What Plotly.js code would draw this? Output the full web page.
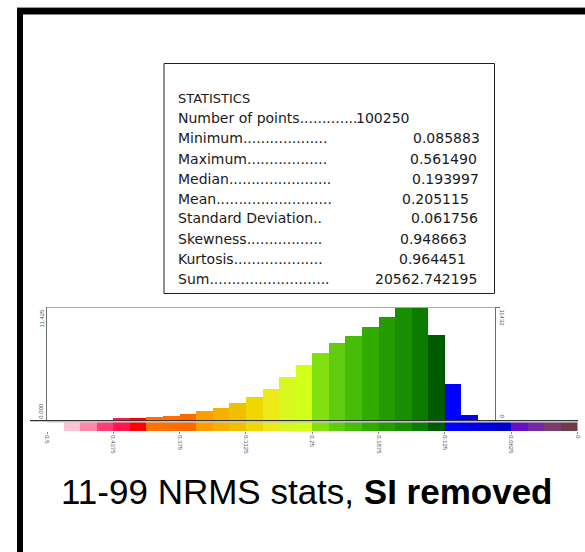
<!DOCTYPE html>
<html>
<head>
<meta charset="utf-8">
<script src="https://cdn.plot.ly/plotly-3.0.1.min.js"></script>
<style>
  html, body { margin: 0; padding: 0; background: #ffffff; }
  #chart { width: 585px; height: 552px; }
</style>
</head>
<body>
<div id="chart"></div>
<script>
// ---------------- data ----------------
const binCenters = [0.4921875, 0.4765625, 0.4609375, 0.4453125, 0.4296875, 0.4140625, 0.3984375, 0.3828125,
  0.3671875, 0.3515625, 0.3359375, 0.3203125, 0.3046875, 0.2890625, 0.2734375, 0.2578125,
  0.2421875, 0.2265625, 0.2109375, 0.1953125, 0.1796875, 0.1640625, 0.1484375, 0.1328125,
  0.1171875, 0.1015625, 0.0859375, 0.0703125, 0.0546875, 0.0390625, 0.0234375, 0.0078125];
const binWidth = 0.015625;
const counts = [0, 25, 40, 70, 230, 275, 375, 470, 705, 975, 1280, 1810, 2380, 3215, 4420, 5600,
  6770, 7810, 8515, 9455, 10425, 11432, 11400, 8620, 3690, 540, 10, 0, 0, 0, 0, 0];
const stripOn = [0, 1, 1, 1, 1, 1, 1, 1, 1, 1, 1, 1, 1, 1, 1, 1,
  1, 1, 1, 1, 1, 1, 1, 1, 1, 1, 1, 1, 1, 1, 1, 1];
const binColors = ['#ffffff', '#ffc2d6', '#ff88aa', '#ff4078', '#ff1850', '#ff0000', '#ff7200', '#ff7000',
  '#ff6a00', '#ff9c00', '#f6b000', '#eec000', '#eed800', '#eeea18', '#d8f820', '#d0ff18',
  '#80e010', '#60cc10', '#48bc08', '#30ac00', '#229c00', '#188e00', '#0c7c00', '#005a00',
  '#0000ff', '#0000ee', '#0000dd', '#0000cc', '#6410c0', '#7428a0', '#783c70', '#6c3c48'];
const xTickVals = [0.5, 0.4375, 0.375, 0.3125, 0.25, 0.1875, 0.125, 0.0625, 0];
const xTickText = ['0.5', '0.4375', '0.375', '0.3125', '0.25', '0.1875', '0.125', '0.0625', '0'];
const xMax = 0.5, xMin = 0, plotRightValue = 0.078125;
const yMaxCount = 11432;
const leftAxisLabels = ['0.000', '11.425'];
const rightAxisLabels = ['0', '11432'];

const statLabels = ['Number of points.............', 'Minimum...................', 'Maximum..................',
  'Median.......................', 'Mean..........................', 'Standard Deviation..', 'Skewness.................',
  'Kurtosis....................', 'Sum...........................'];
const statValues = ['100250', '0.085883', '0.561490', '0.193997', '0.205115', '0.061756', '0.948663', '0.964451', '20562.742195'];
const titleNormal = '11-99 NRMS stats, ';
const titleBold = 'SI removed';

// ---------------- layout helpers ----------------
const W = 585, H = 552;
const px = x => x / W;
const py = y => 1 - y / H;

const plotL = 47, plotR = 577.5;
const xDomain = [px(plotL), px(plotR)];
const histTop = 307, histBottom = 420.7;
const stripTop = 422.3, stripBottom = 431;
const rightAxisPos = xDomain[0] + (xMax - plotRightValue) / (xMax - xMin) * (xDomain[1] - xDomain[0]);

const traces = [
  { type: 'bar', x: binCenters, y: counts, width: binWidth,
    marker: { color: binColors, line: { width: 0 } }, xaxis: 'x', yaxis: 'y', hoverinfo: 'skip' },
  { type: 'bar', x: binCenters, y: stripOn, width: binWidth,
    marker: { color: binColors, line: { width: 0 } }, xaxis: 'x2', yaxis: 'y2', hoverinfo: 'skip' },
  { type: 'scatter', x: [plotRightValue, plotRightValue], y: [0, yMaxCount], mode: 'lines',
    line: { width: 0, color: 'rgba(0,0,0,0)' }, xaxis: 'x', yaxis: 'y3', hoverinfo: 'skip' }
];

const annotations = [];
const statX = 176;
const statFont = { family: 'DejaVu Sans', size: 14, color: '#1a1a1a' };
annotations.push({ xref: 'paper', yref: 'paper', x: px(statX), y: py(98), xanchor: 'left', yanchor: 'middle',
  text: 'STATISTICS', showarrow: false, font: { family: 'DejaVu Sans', size: 13, color: '#1a1a1a' } });
const rowY = [118, 138.5, 158.5, 178.5, 198.5, 218.5, 238.5, 258.5, 278.5];
const valueX = [382, 446, 443, 445, 435, 444, 433, 432, 426];
for (let i = 0; i < statLabels.length; i++) {
  annotations.push({ xref: 'paper', yref: 'paper', x: px(statX), y: py(rowY[i]), xanchor: 'left', yanchor: 'middle',
    text: statLabels[i], showarrow: false, font: statFont });
  annotations.push({ xref: 'paper', yref: 'paper', x: px(valueX[i]), y: py(rowY[i]), xanchor: 'center', yanchor: 'middle',
    text: statValues[i], showarrow: false, font: statFont });
}
// title
annotations.push({ xref: 'paper', yref: 'paper', x: px(306.5), y: py(491), xanchor: 'center', yanchor: 'middle',
  text: titleNormal + '<b>' + titleBold + '</b>', showarrow: false,
  font: { family: 'Liberation Sans, Arial', size: 35, color: '#000' } });
// y-axis labels (rotated)
const tickFont = { family: 'Liberation Sans, Arial', size: 6, color: '#555' };
annotations.push({ xref: 'paper', yref: 'y', x: px(41), y: 0, xanchor: 'center', yanchor: 'bottom',
  text: leftAxisLabels[0], textangle: -90, showarrow: false, font: tickFont });
annotations.push({ xref: 'paper', yref: 'y', x: px(41), y: yMaxCount, xanchor: 'center', yanchor: 'top',
  text: leftAxisLabels[1], textangle: -90, showarrow: false, font: tickFont });
annotations.push({ xref: 'paper', yref: 'y', x: rightAxisPos + px(7.5), y: 0, xanchor: 'center', yanchor: 'bottom',
  text: rightAxisLabels[0], textangle: 90, showarrow: false, font: tickFont });
annotations.push({ xref: 'paper', yref: 'y', x: rightAxisPos + px(7.5), y: yMaxCount, xanchor: 'center', yanchor: 'top',
  text: rightAxisLabels[1], textangle: 90, showarrow: false, font: tickFont });

const shapes = [
  // outer frame
  { type: 'rect', xref: 'paper', yref: 'paper', x0: px(17), x1: px(23), y0: py(8), y1: py(560), fillcolor: '#000', line: { width: 0 } },
  { type: 'rect', xref: 'paper', yref: 'paper', x0: px(17), x1: px(590), y0: py(8), y1: py(14.5), fillcolor: '#000', line: { width: 0 } },
  { type: 'line', xref: 'paper', yref: 'paper', x0: px(17), x1: px(590), y0: py(7.5), y1: py(7.5), line: { color: '#999', width: 1 } },
  // statistics box
  { type: 'rect', xref: 'paper', yref: 'paper', x0: px(164), x1: px(494.5), y0: py(63.5), y1: py(293.5), line: { color: '#222', width: 1 } },
  // top border of histogram
  { type: 'line', xref: 'x', yref: 'y', x0: xMax, x1: plotRightValue, y0: yMaxCount, y1: yMaxCount, line: { color: '#a8a8a8', width: 2 } },
  // baseline
  { type: 'line', xref: 'paper', yref: 'paper', x0: px(30), x1: px(578), y0: py(420.6), y1: py(420.6), line: { color: '#333', width: 1.3 } },
  { type: 'line', xref: 'paper', yref: 'paper', x0: px(47), x1: px(578), y0: py(421.9), y1: py(421.9), line: { color: '#b8b8b8', width: 1 } }
];

const layout = {
  width: W, height: H,
  margin: { l: 0, r: 0, t: 0, b: 0, pad: 0 },
  paper_bgcolor: '#ffffff', plot_bgcolor: 'rgba(0,0,0,0)',
  showlegend: false, bargap: 0,
  xaxis: { domain: xDomain, range: [xMax, xMin], anchor: 'y', showgrid: false, zeroline: false,
    showticklabels: false, ticks: '', showline: false, fixedrange: true },
  yaxis: { domain: [py(histBottom), py(histTop)], range: [0, yMaxCount], anchor: 'x', showgrid: false, zeroline: false,
    showticklabels: false, ticks: '', showline: true, linecolor: '#707070', linewidth: 1.2, fixedrange: true },
  xaxis2: { domain: xDomain, range: [xMax, xMin], anchor: 'y2', showgrid: false, zeroline: false,
    tickmode: 'array', tickvals: xTickVals, ticktext: xTickText, tickangle: 90,
    ticks: 'outside', ticklen: 2, tickwidth: 1, tickcolor: '#888', tickfont: tickFont, showline: false, fixedrange: true },
  yaxis2: { domain: [py(stripBottom), py(stripTop)], range: [0, 1], anchor: 'x2', showgrid: false, zeroline: false,
    showticklabels: false, ticks: '', showline: false, fixedrange: true },
  yaxis3: { overlaying: 'y', side: 'right', anchor: 'free', position: rightAxisPos, range: [0, yMaxCount],
    showgrid: false, zeroline: false, showticklabels: false, tickmode: 'array', tickvals: [0, yMaxCount],
    ticks: 'outside', ticklen: 4, tickcolor: '#707070', showline: true, linecolor: '#707070', linewidth: 1.2, fixedrange: true },
  shapes: shapes,
  annotations: annotations
};

Plotly.newPlot('chart', traces, layout, { staticPlot: true, displayModeBar: false });
</script>
</body>
</html>
